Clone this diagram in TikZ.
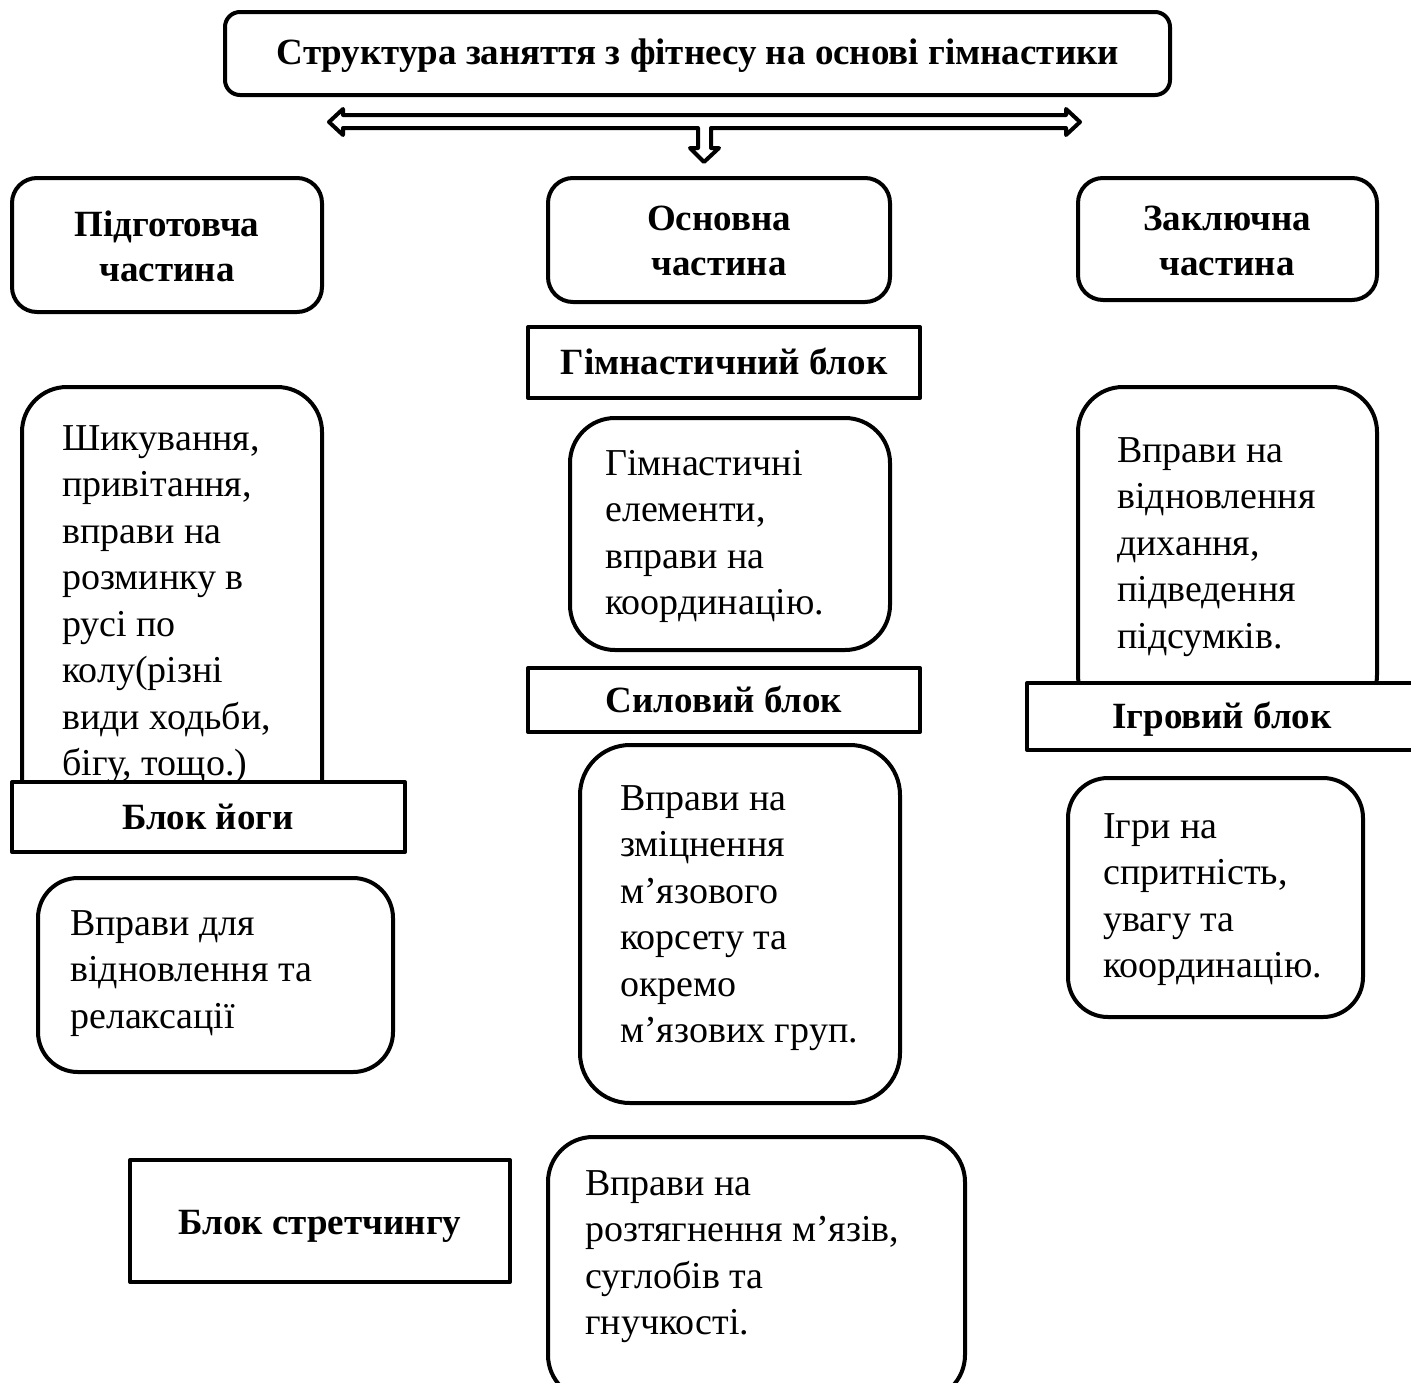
\documentclass[tikz,border=0pt]{standalone}
\usepackage{fontspec}
\setmainfont{Liberation Serif}
\begin{document}
\begin{tikzpicture}[x=1pt,y=-1pt,
  frame/.style={draw, line width=4pt, fill=white, line join=round},
  rframe/.style={frame, rounded corners=#1},
  body/.style={font=\fontsize{38}{46.5}\selectfont, align=left, anchor=north west, inner sep=0},
  head/.style={font=\fontsize{37}{45}\selectfont\bfseries, align=center, inner sep=0},
]
\useasboundingbox[fill=white] (0,0) rectangle (1411,1382);

% title
\path[rframe=15pt] (225,12) rectangle (1170,95);
\node[head, anchor=base] (title) at (698,64) {Структура заняття з фітнесу на основі гімнастики};

% hollow arrow
\draw[line width=4pt, line join=round, fill=white]
  (343,115) -- (1066,115) -- (1066,109) -- (1080,122) -- (1066,135) -- (1066,128)
  -- (711,128) -- (711,148) -- (719,148) -- (704,162) -- (690,148) -- (698,148)
  -- (698,128) -- (343,128) -- (343,135) -- (329,122) -- (343,109) -- cycle;

% part boxes
\path[rframe=25pt] (12,178) rectangle (322,312);
\node[head, anchor=north] (p1) at (167,211) {Підготовча\\частина};
\path[rframe=25pt] (548,178) rectangle (890,302);
\node[head, anchor=north] (p2) at (719,206) {Основна\\частина};
\path[rframe=25pt] (1078,178) rectangle (1377,300);
\node[head, anchor=north] (p3) at (1227,206) {Заключна\\частина};

% left column
\path[rframe=45pt] (22,387) rectangle (322,830);
\node[body] (warm) at (62,425) {Шикування,\\привітання,\\вправи на\\розминку в\\русі по\\колу(різні\\види ходьби,\\бігу, тощо.)};
\path[frame] (12,782) rectangle (405,852);
\node[head, anchor=base] (yoga) at (208,829) {Блок йоги};
\path[rframe=40pt] (38,878) rectangle (393,1072);
\node[body] (relax) at (70,910) {Вправи для\\відновлення та\\релаксації};
\path[frame] (130,1160) rectangle (510,1282);
\node[head, anchor=base] (stretch) at (320,1234) {Блок стретчингу};

% middle column
\path[frame] (528,327) rectangle (920,398);
\node[head, anchor=base] (gym) at (724,374) {Гімнастичний блок};
\path[rframe=45pt] (570,418) rectangle (890,650);
\node[body] (gymtxt) at (605,450) {Гімнастичні\\елементи,\\вправи на\\координацію.};
\path[frame] (528,668) rectangle (920,732);
\node[head, anchor=base] (power) at (724,712) {Силовий блок};
\path[rframe=50pt] (580,745) rectangle (900,1103);
\node[body] (powertxt) at (620,785) {Вправи на\\зміцнення\\м’язового\\корсету та\\окремо\\м’язових груп.};
\path[rframe=45pt] (548,1137) rectangle (965,1400);
\node[body] (stretchtxt) at (585,1170) {Вправи на\\розтягнення м’язів,\\суглобів та\\гнучкості.};

% right column
\path[rframe=45pt] (1078,387) rectangle (1377,720);
\node[body] (cool) at (1117,437) {Вправи на\\відновлення\\дихання,\\підведення\\підсумків.};
\path[frame] (1027,683) rectangle (1420,750);
\node[head, anchor=base] (games) at (1222,728) {Ігровий блок};
\path[rframe=40pt] (1068,778) rectangle (1363,1017);
\node[body] (gamestxt) at (1103,813) {Ігри на\\спритність,\\увагу та\\координацію.};
\end{tikzpicture}
\end{document}
